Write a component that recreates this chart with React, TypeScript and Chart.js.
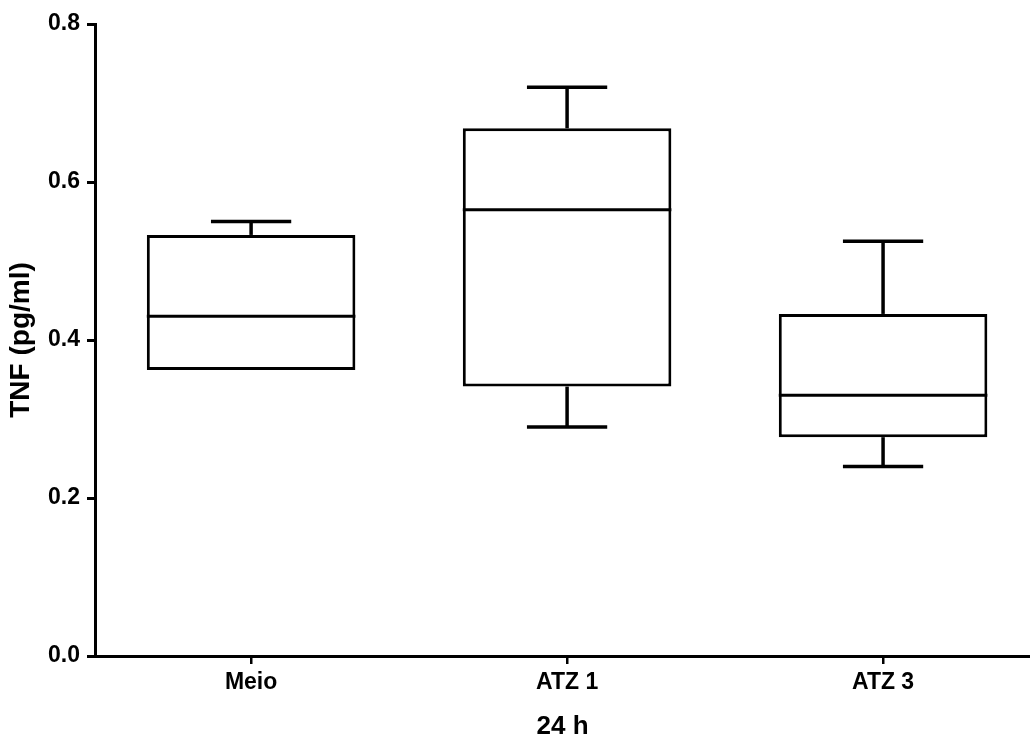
import React, { useEffect, useRef } from 'react';
import { Chart, registerables } from 'chart.js';

Chart.register(...registerables);

const categories = ['Meio', 'ATZ 1', 'ATZ 3'];
const whiskerMin = [0.362, 0.29, 0.24];
const q1 = [0.362, 0.341, 0.277];
const median = [0.43, 0.565, 0.33];
const q3 = [0.533, 0.668, 0.433];
const whiskerMax = [0.55, 0.72, 0.525];
const yTicks = [0, 0.2, 0.4, 0.6, 0.8];
const xTitle = '24 h';
const yTitle = 'TNF (pg/ml)';

const FONT = "'Liberation Sans', Arial, sans-serif";
const CAP_HALF = 0.127;
const LINE_W = 3;
const WHISKER_W = 3.5;

function line(ctx: CanvasRenderingContext2D, x1: number, y1: number, x2: number, y2: number) {
  ctx.beginPath();
  ctx.moveTo(x1, y1);
  ctx.lineTo(x2, y2);
  ctx.stroke();
}

const boxPlugin = {
  id: 'boxWhiskers',
  beforeDatasetsDraw(chart: any) {
    const { ctx, scales } = chart;
    const x = scales.x;
    const y = scales.y;
    ctx.save();
    ctx.strokeStyle = '#000';
    ctx.lineWidth = WHISKER_W;
    categories.forEach((_, i) => {
      const cx = x.getPixelForValue(i);
      const l = x.getPixelForValue(i - CAP_HALF);
      const r = x.getPixelForValue(i + CAP_HALF);
      const yMax = y.getPixelForValue(whiskerMax[i]);
      const yMin = y.getPixelForValue(whiskerMin[i]);
      const yQ1 = y.getPixelForValue(q1[i]);
      const yQ3 = y.getPixelForValue(q3[i]);
      if (whiskerMax[i] > q3[i]) {
        line(ctx, cx, yMax, cx, yQ3);
        line(ctx, l, yMax, r, yMax);
      }
      if (whiskerMin[i] < q1[i]) {
        line(ctx, cx, yQ1, cx, yMin);
        line(ctx, l, yMin, r, yMin);
      }
    });
    ctx.restore();
  },
  afterDatasetsDraw(chart: any) {
    const { ctx, scales } = chart;
    const y = scales.y;
    const meta = chart.getDatasetMeta(0);
    ctx.save();
    ctx.strokeStyle = '#000';
    ctx.lineWidth = LINE_W;
    meta.data.forEach((bar: any, i: number) => {
      const { x: bx, width } = bar.getProps(['x', 'width'], true);
      const ym = y.getPixelForValue(median[i]);
      line(ctx, bx - width / 2, ym, bx + width / 2, ym);
    });
    ctx.restore();
  },
};

export default function App() {
  const ref = useRef<HTMLCanvasElement>(null);

  useEffect(() => {
    if (!ref.current) return;
    const chart = new Chart(ref.current, {
      type: 'bar',
      data: {
        datasets: [
          {
            data: categories.map((_, i) => ({ x: i, y: [q1[i], q3[i]] })) as any,
            backgroundColor: '#ffffff',
            borderColor: '#000000',
            borderWidth: LINE_W,
            borderSkipped: false,
            categoryPercentage: 0.66,
            barPercentage: 1,
          },
        ],
      },
      options: {
        animation: false,
        responsive: false,
        events: [],
        layout: { padding: { top: 24, left: 0, right: 0, bottom: 0 } },
        plugins: { legend: { display: false }, tooltip: { enabled: false } },
        scales: {
          x: {
            type: 'linear',
            offset: false,
            min: -0.494,
            max: 2.465,
            afterBuildTicks: (s: any) => {
              s.ticks = categories.map((_, i) => ({ value: i }));
            },
            afterFit: (s: any) => {
              s.height = 82;
            },
            ticks: {
              callback: (v: any) => categories[Math.round(Number(v))] ?? '',
              color: '#000',
              font: { family: FONT, size: 23, weight: 'bold' },
              padding: 5,
              maxRotation: 0,
              autoSkip: false,
            },
            grid: {
              offset: false,
              drawOnChartArea: false,
              drawTicks: true,
              tickLength: 8,
              color: '#000',
              lineWidth: 2.5,
            },
            border: { display: true, color: '#000', width: 3 },
            title: {
              display: true,
              text: xTitle,
              color: '#000',
              font: { family: FONT, size: 26, weight: 'bold' },
              padding: { top: 0, bottom: -4 },
            },
          },
          y: {
            type: 'linear',
            min: 0,
            max: 0.8,
            afterBuildTicks: (s: any) => {
              s.ticks = yTicks.map((v) => ({ value: v }));
            },
            afterFit: (s: any) => {
              s.width = 95;
            },
            ticks: {
              callback: (v: any) => Number(v).toFixed(1),
              color: '#000',
              font: { family: FONT, size: 23, weight: 'bold' },
              padding: 7,
            },
            grid: {
              drawOnChartArea: false,
              drawTicks: true,
              tickLength: 8,
              color: '#000',
              lineWidth: 3,
            },
            border: { display: true, color: '#000', width: 3 },
            title: {
              display: true,
              text: yTitle,
              color: '#000',
              font: { family: FONT, size: 28, weight: 'bold' },
              padding: { top: 4, bottom: 0 },
            },
          },
        },
      },
      plugins: [boxPlugin],
    });
    return () => chart.destroy();
  }, []);

  return (
    <div style={{ position: 'fixed', left: 0, top: 0, width: 1030, height: 738, background: '#fff' }}>
      <canvas ref={ref} width={1030} height={738} style={{ display: 'block' }} />
    </div>
  );
}
